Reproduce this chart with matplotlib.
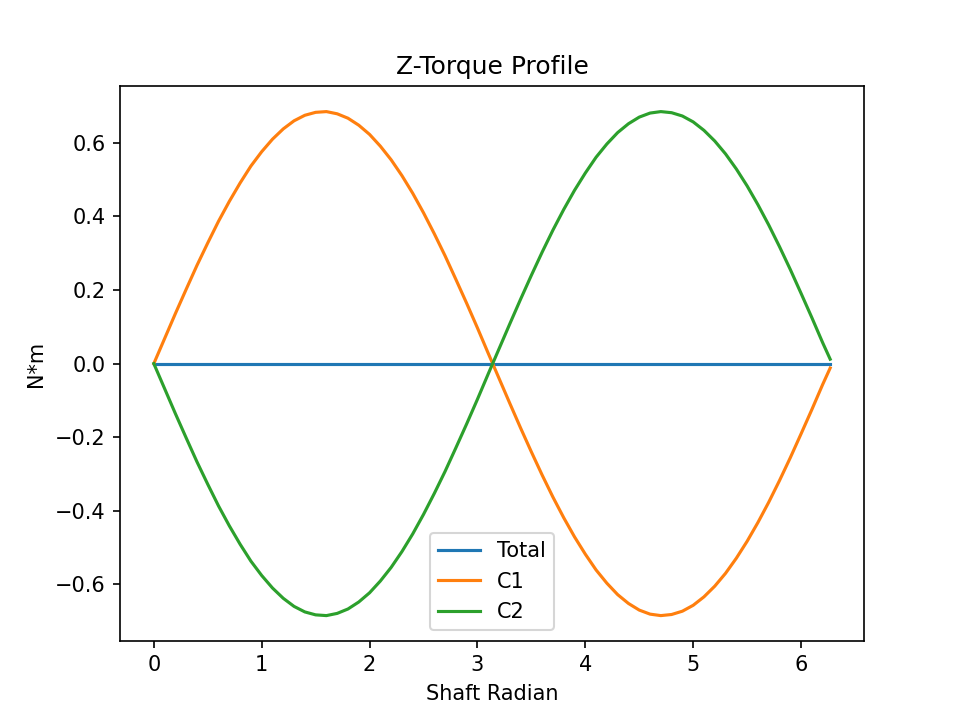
import matplotlib
matplotlib.use("Agg")
import matplotlib.pyplot as plt

shaft_radian = [0.0, 0.1, 0.2, 0.3, 0.4, 0.5, 0.6, 0.7, 0.8, 0.9,
                1.0, 1.1, 1.2, 1.3, 1.4, 1.5, 1.6, 1.7, 1.8, 1.9,
                2.0, 2.1, 2.2, 2.3, 2.4, 2.5, 2.6, 2.7, 2.8, 2.9,
                3.0, 3.1, 3.2, 3.3, 3.4, 3.5, 3.6, 3.7, 3.8, 3.9,
                4.0, 4.1, 4.2, 4.3, 4.4, 4.5, 4.6, 4.7, 4.8, 4.9,
                5.0, 5.1, 5.2, 5.3, 5.4, 5.5, 5.6, 5.7, 5.8, 5.9,
                6.0, 6.1, 6.2, 6.27]

c1 = [0.0, 0.068, 0.136, 0.202, 0.267, 0.328, 0.387, 0.441, 0.491, 0.537,
      0.576, 0.610, 0.638, 0.660, 0.675, 0.683, 0.685, 0.679, 0.667, 0.648,
      0.623, 0.591, 0.554, 0.511, 0.463, 0.410, 0.353, 0.293, 0.229, 0.164,
      0.097, 0.028, -0.040, -0.108, -0.175, -0.240, -0.303, -0.363, -0.419, -0.471,
      -0.518, -0.561, -0.597, -0.628, -0.652, -0.670, -0.681, -0.685, -0.682, -0.673,
      -0.657, -0.634, -0.605, -0.570, -0.529, -0.483, -0.432, -0.377, -0.318, -0.256,
      -0.191, -0.125, -0.057, -0.012]

c2 = [0.0, -0.068, -0.136, -0.202, -0.267, -0.328, -0.387, -0.441, -0.491, -0.537,
      -0.576, -0.610, -0.638, -0.660, -0.675, -0.683, -0.685, -0.679, -0.667, -0.648,
      -0.623, -0.591, -0.554, -0.511, -0.463, -0.410, -0.353, -0.293, -0.229, -0.164,
      -0.097, -0.028, 0.040, 0.108, 0.175, 0.240, 0.303, 0.363, 0.419, 0.471,
      0.518, 0.561, 0.597, 0.628, 0.652, 0.670, 0.681, 0.685, 0.682, 0.673,
      0.657, 0.634, 0.605, 0.570, 0.529, 0.483, 0.432, 0.377, 0.318, 0.256,
      0.191, 0.125, 0.057, 0.012]

total = [0.0] * len(shaft_radian)

fig, ax = plt.subplots(figsize=(6.4, 4.8), dpi=150)
ax.plot(shaft_radian, total, label="Total")
ax.plot(shaft_radian, c1, label="C1")
ax.plot(shaft_radian, c2, label="C2")
ax.set_title("Z-Torque Profile")
ax.set_xlabel("Shaft Radian")
ax.set_ylabel("N*m")
ax.legend(loc="lower center")
fig.savefig("out.png", dpi=150)
